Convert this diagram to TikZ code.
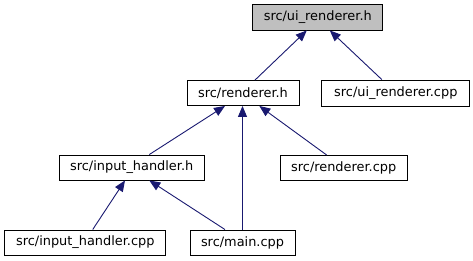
\documentclass[tikz,border=0pt]{standalone}
\usepackage{fontspec}
\setmainfont{DejaVu Sans}
\usetikzlibrary{arrows.meta}
\definecolor{edgeblue}{HTML}{191970}
\begin{document}
\begin{tikzpicture}[x=1pt,y=-1pt,
  file/.style={draw=black, line width=0.9pt, fill=white, minimum height=25pt,
    inner sep=0pt, font=\fontsize{12.9}{15}\selectfont},
  current/.style={file, fill=gray!50},
  dep/.style={draw=edgeblue, line width=0.9pt,
    -{Triangle[length=11pt,width=9pt]}}
]
\useasboundingbox (0,0) rectangle (473,261);

% include graph nodes
\node[current, minimum width=130pt, minimum height=26pt] (urh) at (317.8,17) {src/ui\_renderer.h};
\node[file, minimum width=112pt] (rh)    at (243,93)    {src/renderer.h};
\node[file, minimum width=148pt, minimum height=26pt] (urcpp) at (395.8,93) {src/ui\_renderer.cpp};
\node[file, minimum width=145pt] (ihh)   at (131.7,167.5) {src/input\_handler.h};
\node[file, minimum width=127pt] (rcpp)  at (343.7,168) {src/renderer.cpp};
\node[file, minimum width=161pt] (ihcpp) at (85.3,242.5) {src/input\_handler.cpp};
\node[file, minimum width=105pt] (main)  at (242.5,242.5) {src/main.cpp};

% dependencies, pointing at the included header
\draw[dep] ([xshift=12pt]rh.north)      -- ([xshift=-11pt]urh.south);
\draw[dep] ([xshift=-14pt]urcpp.north)  -- ([xshift=12pt]urh.south);
\draw[dep] ([xshift=17.6pt]ihh.north)   -- ([xshift=-18pt]rh.south);
\draw[dep] ([xshift=-17pt]rcpp.north)   -- ([xshift=16.3pt]rh.south);
\draw[dep] (main.north)                 -- (main.north |- rh.south);
\draw[dep] ([xshift=7.4pt]ihcpp.north)  -- ([xshift=-6.7pt]ihh.south);
\draw[dep] ([xshift=-17.5pt]main.north) -- ([xshift=17.6pt]ihh.south);
\end{tikzpicture}
\end{document}
